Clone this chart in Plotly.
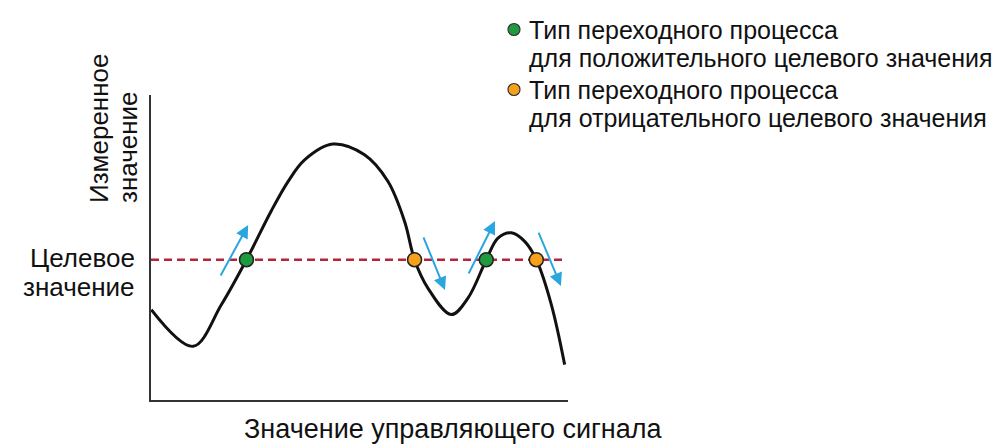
import plotly.graph_objects as go

# ---- data (abstract units: x 0..100, y 0..100) ----
curve_x = [0.07, 10.1, 16.9, 22.9, 28.8, 32.9, 36.9, 43.6, 51.2, 56.8, 60.8, 63.2,
           66.4, 72.0, 76.0, 80.4, 83.2, 86.4, 89.6, 92.4, 96.0, 99.2]
curve_y = [29.6, 17.6, 31.3, 46.0, 61.9, 71.7, 78.8, 83.9, 80.4, 71.7, 58.6, 46.0,
           36.7, 28.0, 33.4, 46.0, 53.1, 54.8, 52.0, 46.0, 31.3, 11.6]

target_value = 46.0
target_x = [0, 99.5]

positive_x = [22.9, 80.4]
negative_x = [63.2, 92.4]

# arrows: tail -> head
arrow_tail_x = [16.5, 65.2, 76.0, 92.8]
arrow_tail_y = [40.3, 53.8, 41.0, 55.4]
arrow_head_x = [23.3, 70.5, 82.5, 98.3]
arrow_head_y = [57.4, 36.1, 58.7, 37.4]

legend_lines = [
    ["Тип переходного процесса", "для положительного целевого значения"],
    ["Тип переходного процесса", "для отрицательного целевого значения"],
]
legend_colors = ["#1e9b3e", "#f5a11c"]
y_title_lines = ["Измеренное", "значение"]
target_label_lines = ["Целевое", "значение"]
x_title = "Значение управляющего сигнала"

FONT = "Liberation Sans, Arial, sans-serif"
TXT = "#111111"
W, H = 1002, 448
L, R, T, B = 143, 442, 87, 56
PW, PH = W - L - R, H - T - B


def px_x(px):
    return (px - L) / PW


def px_y(py):
    return (H - B - py) / PH


def center_from_baseline(baseline, size):
    return baseline - 0.3465 * size


fig = go.Figure()

fig.add_trace(go.Scatter(
    x=target_x, y=[target_value] * len(target_x), mode="lines",
    line=dict(color="#b3263a", width=2.5, dash="8px,5px"),
    showlegend=False, hoverinfo="skip"))

fig.add_trace(go.Scatter(
    x=curve_x, y=curve_y, mode="lines",
    line=dict(color="#111111", width=3, shape="spline", smoothing=1.0),
    showlegend=False, hoverinfo="skip"))

fig.add_trace(go.Scatter(
    x=positive_x, y=[target_value] * len(positive_x), mode="markers",
    marker=dict(size=14, color=legend_colors[0], line=dict(color="#222222", width=1.5)),
    name=" ".join(legend_lines[0]), showlegend=False))

fig.add_trace(go.Scatter(
    x=negative_x, y=[target_value] * len(negative_x), mode="markers",
    marker=dict(size=14, color=legend_colors[1], line=dict(color="#222222", width=1.5)),
    name=" ".join(legend_lines[1]), showlegend=False))

annotations = []
for tx, ty, hx, hy in zip(arrow_tail_x, arrow_tail_y, arrow_head_x, arrow_head_y):
    annotations.append(dict(
        x=hx, y=hy, ax=tx, ay=ty, xref="x", yref="y", axref="x", ayref="y",
        text="", showarrow=True, arrowhead=2, arrowsize=1.3, arrowwidth=2,
        arrowcolor="#2aa6de", standoff=0, startstandoff=0))

# y-axis title (rotated, two lines, start-aligned at the bottom)
ysz = 26
for i, line in enumerate(y_title_lines):
    base = 100 + 29 * i
    annotations.append(dict(
        x=px_x(center_from_baseline(base, ysz)), y=px_y(197),
        xref="paper", yref="paper", xanchor="center", yanchor="bottom",
        text=line, textangle=-90, showarrow=False,
        font=dict(family=FONT, size=ysz, color=TXT)))

# target value label
tsz = 26
for i, line in enumerate(target_label_lines):
    base = 259 + 29.5 * i
    annotations.append(dict(
        x=px_x(129), y=px_y(center_from_baseline(base, tsz)),
        xref="paper", yref="paper", xanchor="right", yanchor="middle",
        text=line, showarrow=False,
        font=dict(family=FONT, size=tsz, color=TXT)))

# x-axis title
xsz = 27
annotations.append(dict(
    x=px_x(445), y=px_y(center_from_baseline(430, xsz)),
    xref="paper", yref="paper", xanchor="center", yanchor="middle",
    text=x_title, showarrow=False,
    font=dict(family=FONT, size=xsz, color=TXT)))

# legend (text + dots)
lsz = 25
shapes = []
for k, (lines, col) in enumerate(zip(legend_lines, legend_colors)):
    base1 = 30.5 + 60 * k
    for j, line in enumerate(lines):
        annotations.append(dict(
            x=px_x(519), y=px_y(center_from_baseline(base1 + 28 * j, lsz)),
            xref="paper", yref="paper", xanchor="left", yanchor="middle",
            text=line, showarrow=False,
            font=dict(family=FONT, size=lsz, color=TXT)))
    cy = base1 - 9
    r = 6
    shapes.append(dict(
        type="circle", xref="paper", yref="paper",
        x0=px_x(506 - r), x1=px_x(506 + r), y0=px_y(cy + r), y1=px_y(cy - r),
        fillcolor=col, line=dict(color="#333333", width=1.2)))

fig.update_layout(
    width=W, height=H,
    margin=dict(l=L, r=R, t=T, b=B),
    paper_bgcolor="white", plot_bgcolor="white",
    xaxis=dict(range=[0, 100], showgrid=False, zeroline=False, showticklabels=False,
               ticks="", showline=True, linecolor="#333333", linewidth=2),
    yaxis=dict(range=[0, 100], showgrid=False, zeroline=False, showticklabels=False,
               ticks="", showline=True, linecolor="#333333", linewidth=2),
    annotations=annotations,
    shapes=shapes,
    showlegend=False,
)

fig.write_html("out.html")
